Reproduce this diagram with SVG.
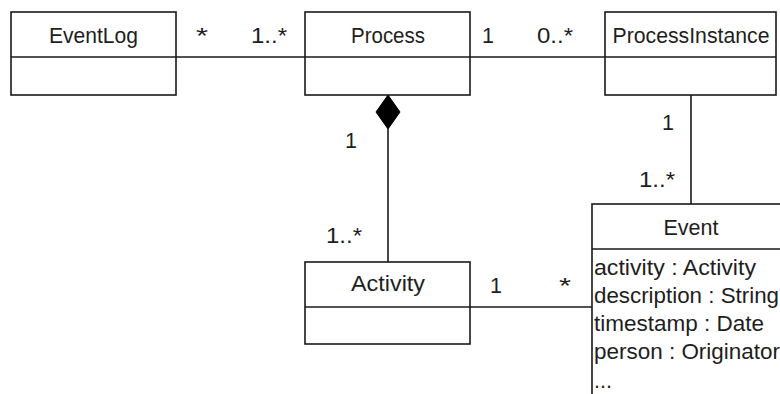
<svg xmlns="http://www.w3.org/2000/svg" width="780" height="394" viewBox="0 0 780 394">
<style>
.box{fill:#fff;stroke:#1a1a1a;stroke-width:1.6}
.ln{fill:none;stroke:#1a1a1a;stroke-width:1.6}
text{font-family:"Liberation Sans",Arial,sans-serif;font-size:21.5px;fill:#1e1e1e}
.c{text-anchor:middle}
</style>
<rect width="780" height="394" fill="#fff"/>
<g id="connectors">
<line class="ln" x1="176" y1="57" x2="305" y2="57"/>
<line class="ln" x1="470" y1="57" x2="605" y2="57"/>
<line class="ln" x1="388" y1="129" x2="388" y2="262"/>
<polygon points="388,95 400,112 388,129 376,112" fill="#000" stroke="#000" stroke-width="1"/>
<line class="ln" x1="691" y1="95" x2="691" y2="204"/>
<line class="ln" x1="470" y1="307" x2="592" y2="307"/>
<text x="196" y="43" textLength="12" lengthAdjust="spacingAndGlyphs">*</text>
<text x="251" y="43" textLength="36" lengthAdjust="spacingAndGlyphs">1..*</text>
<text x="482" y="43" textLength="12" lengthAdjust="spacingAndGlyphs">1</text>
<text x="537" y="43" textLength="36" lengthAdjust="spacingAndGlyphs">0..*</text>
<text x="345" y="148" textLength="12" lengthAdjust="spacingAndGlyphs">1</text>
<text x="326" y="243" textLength="36" lengthAdjust="spacingAndGlyphs">1..*</text>
<text x="490" y="293" textLength="12" lengthAdjust="spacingAndGlyphs">1</text>
<text x="559" y="293" textLength="12" lengthAdjust="spacingAndGlyphs">*</text>
<text x="662" y="130" textLength="12" lengthAdjust="spacingAndGlyphs">1</text>
<text x="639" y="187" textLength="36" lengthAdjust="spacingAndGlyphs">1..*</text>
</g>
<g id="EventLog">
<rect class="box" x="11" y="12" width="165" height="83"/>
<line class="ln" x1="11" y1="57" x2="176" y2="57"/>
<text class="c" x="93.5" y="43" textLength="89" lengthAdjust="spacingAndGlyphs">EventLog</text>
</g>
<g id="Process">
<rect class="box" x="305" y="12" width="165" height="83"/>
<line class="ln" x1="305" y1="57" x2="470" y2="57"/>
<text class="c" x="388" y="43" textLength="74" lengthAdjust="spacingAndGlyphs">Process</text>
</g>
<g id="ProcessInstance">
<rect class="box" x="605" y="12" width="171" height="83"/>
<line class="ln" x1="605" y1="57" x2="776" y2="57"/>
<text class="c" x="691" y="43" textLength="157" lengthAdjust="spacingAndGlyphs">ProcessInstance</text>
</g>
<g id="Activity">
<rect class="box" x="305" y="262" width="165" height="82"/>
<line class="ln" x1="305" y1="307" x2="470" y2="307"/>
<text class="c" x="388" y="291" textLength="74" lengthAdjust="spacingAndGlyphs">Activity</text>
</g>
<g id="Event">
<rect class="box" x="592" y="204" width="230" height="230"/>
<line class="ln" x1="592" y1="249" x2="822" y2="249"/>
<text class="c" x="691" y="235" textLength="55" lengthAdjust="spacingAndGlyphs">Event</text>
<text x="594" y="275" textLength="162" lengthAdjust="spacingAndGlyphs">activity : Activity</text>
<text x="594" y="303" textLength="185" lengthAdjust="spacingAndGlyphs">description : String</text>
<text x="594" y="331" textLength="170" lengthAdjust="spacingAndGlyphs">timestamp : Date</text>
<text x="594" y="359" textLength="186" lengthAdjust="spacingAndGlyphs">person : Originator</text>
<text x="594" y="388" textLength="18" lengthAdjust="spacingAndGlyphs">...</text>
</g>
</svg>
